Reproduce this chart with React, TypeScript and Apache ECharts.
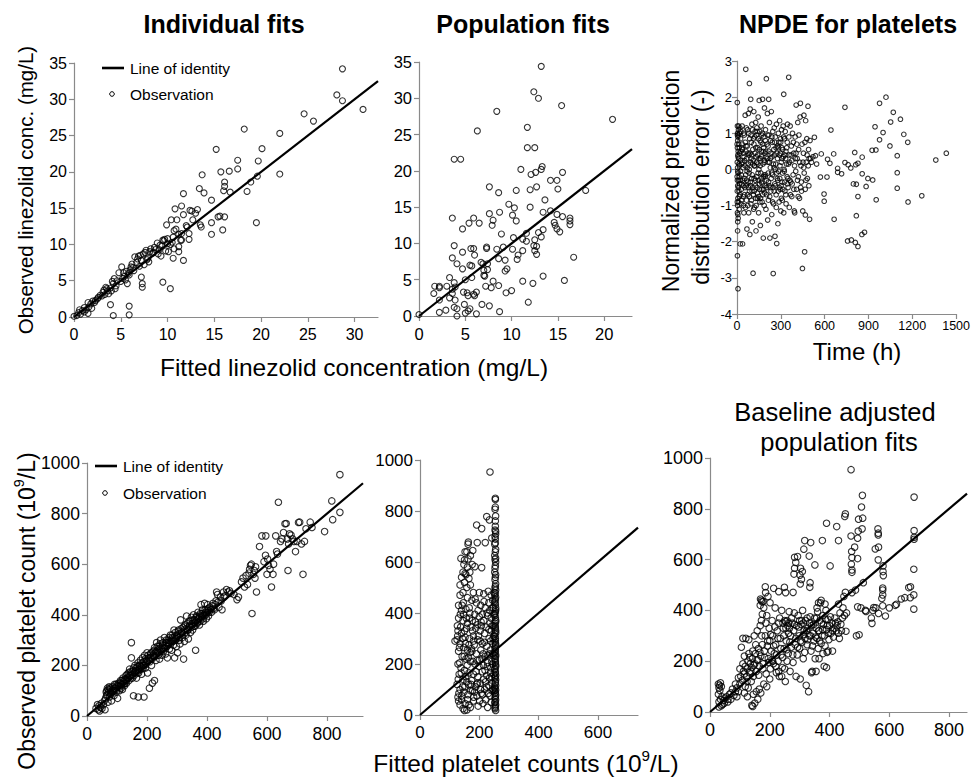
import React, { useEffect, useRef } from "react";
import * as echarts from "echarts";

// ---------- DATA ----------
// Panel 1: Individual fits (fitted, observed) mg/L
const indivObs: number[][] = [
  [28.7,34.2],[28.1,30.6],[28.7,29.8],[30.9,28.6],[24.6,28.0],[25.6,27.0],[18.2,25.9],[22.0,25.3],[15.2,23.1],[20.1,23.2],
  [17.5,21.6],[19.7,21.5],[13.7,19.6],[15.7,20.0],[16.6,20.1],[17.5,20.4],[22.0,19.7],[19.6,19.4],[18.9,18.6],[16.1,18.6],
  [16.1,18.0],[11.7,17.0],[13.4,17.7],[13.9,17.1],[16.0,17.4],[16.7,17.2],[18.5,17.3],[14.7,16.1],[11.5,15.3],[10.8,14.9],
  [12.4,14.7],[13.0,14.3],[11.7,14.1],[15.4,13.8],[15.6,13.9],[16.1,13.8],[10.4,13.4],[9.9,12.7],[11.0,13.4],[12.7,13.4],
  [14.7,13.0],[19.5,13.0],[13.5,12.7],[13.6,12.4],[12.1,12.4],[15.9,12.0],[10.7,11.9],[12.3,11.5],[14.7,11.4],[11.5,11.5],
  [12.3,10.7],[11.5,10.6],[9.5,10.6],[10.0,10.1],[10.5,10.3],[11.2,9.7],[10.7,9.4],[11.2,9.0],[10.1,9.0],[9.3,8.4],
  [10.6,8.1],[11.7,7.8],[9.5,4.8],[10.3,3.9],[7.2,5.5],[7.3,4.6],[7.3,4.1],[5.7,4.6],[3.9,1.7],[4.2,0.2],
  [5.9,1.5],[5.9,0.3],[1.5,0.5],[0.0,0.1],[12.0,12.6],[13.2,14.8],[12.6,14.6],[9.7,10.7],[9.0,8.7],[8.5,8.9],
  [0.3,0.2],[0.5,0.6],[0.7,0.4],[0.9,0.9],[1.1,1.3],[1.3,1.0],[1.5,2.0],[1.6,1.4],[1.8,1.8],[2.0,2.2],
  [2.3,2.3],[2.6,2.7],[2.8,3.0],[3.0,2.9],[3.1,3.4],[3.3,3.1],[3.4,4.1],[3.6,3.6],[3.7,3.2],[3.9,4.0],
  [4.0,3.6],[4.2,4.6],[4.3,5.3],[4.5,4.3],[4.6,5.0],[4.8,6.1],[5.0,4.9],[5.1,6.9],[5.2,5.3],[5.4,5.6],
  [5.6,6.3],[5.8,6.0],[6.0,6.5],[6.2,7.3],[6.3,6.8],[6.5,8.3],[6.7,7.5],[6.9,8.4],[7.0,7.0],[7.2,7.8],
  [7.4,8.7],[7.5,7.2],[7.7,9.2],[7.9,8.1],[8.0,7.6],[8.2,9.4],[8.4,8.8],[8.6,9.6],[8.9,10.2],[9.1,9.3],
  [9.4,9.8],[9.6,10.5],[9.8,9.1],[10.0,10.8],[10.3,10.0],[10.6,11.0],[10.9,12.1],[11.2,11.4],[11.4,10.6],[1.1,0.7],
  [1.9,1.2],[2.5,2.5],[3.5,3.9],[4.1,4.9],[4.4,3.9],[5.3,6.1],[5.5,5.1],[6.1,6.9],[6.8,8.0],[7.1,8.5],
  [7.6,8.9],[8.1,9.0],[8.7,9.3],[9.2,9.9],[5.9,5.8],[6.4,6.4],[7.8,7.9],[2.2,2.0],[3.2,3.7],[0.6,1.0],
];

// Panel 2: Population fits (fitted, observed) mg/L
const popObs: number[][] = [
  [13.2,34.4],[12.4,30.9],[12.9,30.0],[15.4,29.0],[8.4,28.2],[20.9,27.1],[6.3,25.5],[11.7,26.0],[3.8,21.6],[4.5,21.6],
  [11.7,23.2],[12.5,23.2],[11.0,20.2],[13.3,20.6],[13.2,20.2],[12.1,19.5],[12.6,19.8],[15.5,19.8],[14.2,18.7],[14.9,18.7],
  [15.0,17.5],[12.7,17.8],[12.0,17.4],[10.5,17.3],[18.0,17.3],[7.6,17.8],[8.6,17.0],[13.6,16.0],[9.7,15.4],[10.3,14.9],
  [12.0,15.0],[7.6,14.1],[8.7,14.3],[13.4,14.3],[14.2,14.5],[10.1,13.9],[10.5,13.1],[3.6,13.5],[5.9,13.5],[5.4,12.8],
  [6.5,12.8],[8.0,13.2],[7.9,12.5],[14.9,14.0],[15.5,13.7],[16.3,13.5],[16.3,13.1],[16.3,12.6],[14.6,12.9],[14.7,12.5],
  [14.9,12.0],[15.2,11.6],[4.7,12.0],[8.9,11.3],[13.4,11.9],[12.9,11.5],[11.6,11.4],[11.2,10.6],[11.6,10.3],[13.2,10.9],
  [10.2,10.8],[12.5,10.5],[3.8,9.7],[5.6,9.3],[5.9,9.3],[7.3,9.5],[7.3,9.3],[9.1,9.5],[10.1,9.2],[8.4,9.2],
  [4.7,8.8],[6.0,8.4],[12.4,9.7],[12.7,9.6],[11.2,9.0],[10.7,8.4],[12.5,9.0],[12.7,8.5],[10.6,7.8],[8.6,7.9],
  [9.3,7.7],[16.7,8.1],[3.6,8.0],[4.1,7.2],[4.7,6.5],[5.5,7.0],[5.7,6.9],[6.7,7.4],[6.9,7.2],[7.4,7.2],
  [7.0,6.3],[7.4,6.4],[9.3,6.2],[9.5,6.5],[7.0,5.6],[7.1,5.5],[5.0,5.0],[5.7,5.3],[3.3,5.3],[8.0,4.8],
  [8.6,4.2],[7.8,3.9],[7.2,4.1],[13.4,5.5],[15.7,4.9],[11.2,4.8],[12.3,4.5],[1.7,4.1],[2.2,4.1],[3.0,4.1],
  [1.6,3.1],[2.2,3.9],[3.6,3.7],[3.6,3.1],[3.9,4.0],[3.8,4.6],[4.8,3.3],[5.2,3.2],[5.9,3.0],[6.2,3.3],
  [5.3,2.8],[6.0,2.8],[9.4,3.2],[10.0,3.5],[11.8,1.9],[3.3,2.5],[3.9,2.2],[2.2,2.2],[4.9,1.6],[3.8,1.2],
  [4.1,1.0],[2.9,0.8],[2.2,0.5],[6.8,1.6],[7.6,1.4],[4.1,0.0],[5.0,0.4],[5.3,0.7],[5.5,1.0],[6.2,0.3],
  [8.7,0.6],[0,0.2],
];

// Panel 3: NPDE for platelets (time h, npde)
const npdeObs: number[][] = [
  [2,1.85],[3,1.2],[4,1.0],[5,0.8],[3,0.6],[6,0.4],[2,0.2],[4,0.05],[7,-0.1],[3,-0.3],[5,-0.45],[2,-0.6],[6,-0.8],[4,-1.0],
  [3,-1.2],[8,-1.35],[5,-1.45],[4,-1.7],[3,-2.39],[7,-3.30],[10,1.1],[12,0.7],[11,0.3],[14,-0.2],[13,-0.6],[10,-0.9],
  [15,-1.1],[9,0.95],[16,0.1],[18,-0.4],[20,1.15],[22,-2.06],[38,-2.06],[25,0.85],[27,0.5],[24,-0.05],[30,-0.55],[28,-0.95],
  [32,0.15],[35,1.2],[36,0.7],[40,-0.3],[42,-0.75],[45,0.45],[47,-1.2],[50,0.95],[52,0.25],[54,-0.5],[56,1.5],[60,2.77],
  [60,-0.15],[62,0.65],[65,-0.85],[68,-1.65],[70,0.05],[72,1.1],[75,-0.35],[78,1.55],[80,-1.2],[82,0.4],[85,2.38],[85,-0.6],
  [88,-1.8],[90,1.67],[92,0.2],[94,1.94],[95,-0.95],[98,0.75],[100,-0.25],[102,1.25],[105,-1.45],[108,0.55],[110,-2.87],
  [112,-0.7],[115,1.6],[118,0.1],[120,-1.05],[122,0.9],[125,-0.45],[128,1.3],[130,-1.7],[132,0.35],[135,-0.2],[138,1.05],
  [140,-0.8],[142,0.6],[145,1.45],[148,-1.2],[150,0.0],[152,1.91],[155,-0.55],[158,0.8],[160,-1.55],[162,0.3],[165,1.2],
  [168,-0.35],[170,0.95],[172,-0.9],[175,1.94],[178,0.15],[180,-1.9],[182,0.6],[185,-0.15],[188,1.7],[190,-0.65],[192,0.45],
  [195,1.1],[198,-1.1],[201,2.51],[202,-0.3],[205,0.7],[208,1.55],[210,-1.4],[212,0.2],[215,-0.85],[217,1.94],[218,0.95],
  [220,-0.45],[222,1.3],[225,-1.9],[228,0.05],[230,0.8],[232,-0.6],[235,1.6],[238,-1.25],[240,0.35],[243,-0.15],[245,1.05],
  [248,-2.88],[250,-0.95],[252,0.55],[255,1.15],[258,-0.4],[260,-1.85],[262,0.9],[265,0.15],[268,-0.7],[270,1.25],[272,-2.05],
  [275,-0.25],[278,0.65],[280,-1.5],[283,1.0],[285,-0.05],[288,-0.9],[290,0.4],[292,1.35],[295,-0.55],[298,0.85],[300,-1.15],
  [303,0.2],[305,1.1],[308,-0.35],[310,-0.85],[313,0.55],[316,1.2],[320,2.08],[320,-1.2],[322,0.0],[325,0.85],[328,-0.6],
  [330,1.05],[333,0.3],[336,-0.95],[340,0.6],[343,-0.2],[346,1.25],[350,-0.5],[354,2.55],[355,0.9],[358,-1.05],[360,0.2],
  [364,1.2],[368,-0.35],[372,0.65],[375,-0.75],[380,1.0],[384,-0.15],[388,0.45],[392,-1.15],[395,-1.2],[398,0.9],[402,-0.05],
  [405,1.78],[408,-0.55],[412,0.3],[416,1.3],[420,-0.2],[424,0.95],[428,-0.8],[432,1.45],[434,1.83],[438,0.1],[440,-0.35],
  [445,0.7],[448,-2.74],[450,-1.15],[455,0.45],[458,1.5],[460,-0.1],[463,-2.28],[465,0.75],[468,-1.26],[470,1.35],[474,0.2],
  [478,0.85],[482,-0.25],[486,1.75],[490,0.55],[494,0.3],[497,-1.38],[500,0.8],[510,0.2],[520,0.35],[530,0.89],[537,0.38],
  [545,0.15],[571,-0.21],[577,0.43],[596,-0.68],[597,-0.88],[616,-0.21],[620,0.28],[636,0.17],[643,1.09],[662,0.43],[665,-1.38],
  [689,-0.08],[689,0.03],[716,-0.12],[739,0.19],[739,1.72],[757,-1.98],[761,0.13],[779,0.04],[783,-1.95],[797,-0.40],[806,0.47],
  [810,-2.02],[813,0.13],[817,-0.41],[817,-1.28],[828,0.17],[828,-0.75],[828,-2.13],[855,-1.80],[857,-0.12],[857,0.34],[873,-1.74],
  [884,-0.47],[896,-0.25],[925,0.53],[929,-0.29],[945,1.18],[951,0.54],[953,-0.84],[976,1.83],[976,0.82],[1000,1.02],[1020,2.0],
  [1047,0.65],[1052,1.31],[1070,1.58],[1097,0.38],[1097,-0.09],[1097,-0.52],[1119,1.39],[1142,0.97],[1169,0.75],[1171,-0.90],
  [1265,-0.73],[1361,0.26],[1433,0.45],
  [6,0.9],[8,0.5],[12,-0.3],[15,0.6],[18,1.0],[21,-0.7],[26,0.25],[29,-0.15],[33,-0.4],[37,0.55],[41,0.05],[44,-1.0],[48,0.35],
  [53,-0.25],[57,0.75],[63,-0.45],[66,0.3],[69,-0.05],[73,-0.7],[77,0.45],[83,-0.1],[87,0.85],[93,-0.45],[97,0.3],[103,-0.6],
  [107,0.15],[113,0.85],[117,-0.25],[123,0.45],[127,-0.8],[133,0.95],[137,-0.5],[143,0.15],[147,-0.3],[153,0.55],[157,-0.9],
  [163,-0.1],[167,0.5],[173,-0.4],[177,0.7],[183,-0.55],[187,0.25],[193,-0.2],[197,0.5],[203,-0.7],[207,0.3],[213,0.65],
  [216,-0.35],[223,0.2],[227,-0.5],[233,0.45],[237,-0.1],[242,0.75],[247,-0.5],[253,0.05],[257,0.4],[263,-0.45],[267,0.6],
  [273,-0.1],[277,0.3],[282,-0.6],[287,0.75],[293,-0.25],[297,0.45],[302,-0.45],[307,0.6],[312,-0.1],[318,0.35],[326,-0.35],
  [335,0.5],[345,-0.4],[352,0.15],[362,-0.3],[370,0.4],[378,-0.4],[386,0.75],[394,0.1],[404,0.45],[414,-0.3],[422,0.55],
  [436,-0.5],[452,0.2],[472,-0.3],[488,0.1],
  [1,0.7],[1,-0.2],[2,-0.9],[3,0.95],[5,-0.05],[6,-1.25],[7,0.35],[9,-0.5],[11,1.2],[13,0.15],[16,-0.75],[19,0.45],[23,-0.3],
  [26,1.05],[31,-0.85],[34,0.6],[39,0.2],[43,-0.45],[46,1.0],[51,-0.7],[55,0.1],[58,-1.05],[61,0.5],[64,1.15],[67,-0.3],
  [71,0.65],[74,-1.0],[76,0.15],[79,-0.5],[81,1.0],[84,0.0],[86,-0.75],[89,0.45],[91,-0.35],[96,0.95],[99,-0.85],[101,0.4],
  [104,-0.15],[106,1.1],[109,-0.5],[111,0.25],[114,-1.1],[116,0.7],[119,-0.6],[121,0.1],[124,1.05],[126,-0.3],[129,0.6],
  [131,-1.0],[134,0.2],[136,1.15],[139,-0.65],[141,0.4],[144,-0.1],[146,0.85],[149,-0.75],[151,0.3],[154,-0.4],[156,1.05],
  [159,0.1],[161,-0.8],[164,0.75],[166,-0.25],[169,0.35],[171,-0.55],[174,1.0],[176,-0.7],[179,0.5],[181,-0.2],[184,0.9],
  [186,-1.0],[189,0.2],[191,-0.45],[194,0.8],[196,-0.15],[199,0.35],[204,-0.5],[209,0.95],[214,-0.1],[219,0.5],[224,-0.75],
  [229,0.3],[234,-0.25],[239,0.9],[244,-0.9],[249,0.15],[254,-0.6],[259,0.75],[264,0.0],[269,-1.05],[274,0.45],[279,-0.3],
  [284,0.6],[289,-0.5],[294,0.1],[299,0.75],[304,-0.8],[309,0.3],[314,-0.55],[319,0.9],[324,-0.05],[329,0.4],[334,-0.7],
  [339,0.15],[344,0.75],[349,-0.25],[356,0.4],[366,-0.7],[376,0.25],[389,-0.55],[399,0.3],[409,0.7],[419,-0.75],[429,0.2],
  [442,-0.6],[457,0.05],[467,-0.55],[480,0.4],[492,-0.45],[504,0.3],
];

// Panel 4: individual fits platelets (fitted, observed) 10^9/L
const indivPlt: number[][] = [
  [30,30],[35,45],[38,25],[40,40],[42,20],[45,35],[48,50],[50,30],[55,45],[58,60],[60,25],[62,70],[65,80],[66,100],[68,110],
  [70,55],[72,95],[74,115],[75,75],[78,105],[80,90],[82,60],[85,115],[88,100],[90,80],[92,125],[95,110],[98,95],[100,120],
  [102,70],[105,130],[108,100],[110,115],[112,140],[115,125],[118,105],[120,150],[122,135],[125,120],[128,145],[130,160],
  [132,130],[135,150],[138,170],[140,140],[142,185],[145,160],[148,290],[148,230],[150,175],[152,150],[155,190],[155,80],
  [158,170],[160,200],[162,180],[165,150],[168,195],[170,210],[171,75],[172,170],[175,200],[178,220],[180,185],[182,165],
  [185,230],[188,200],[190,75],[190,215],[192,240],[195,190],[198,220],[200,250],[202,170],[205,230],[208,110],[210,215],
  [212,245],[215,200],[218,130],[220,255],[222,235],[225,140],[225,270],[228,250],[230,220],[232,290],[235,260],[238,240],
  [240,275],[242,225],[245,300],[248,265],[250,240],[252,280],[255,255],[258,310],[260,270],[262,245],[265,290],[268,230],
  [270,300],[272,285],[275,265],[278,320],[280,295],[282,260],[285,310],[288,280],[290,340],[292,230],[295,300],[298,275],
  [300,320],[302,250],[305,340],[308,300],[310,285],[312,380],[315,330],[318,310],[320,350],[322,225],[325,295],[328,360],
  [330,320],[332,395],[335,340],[338,305],[340,375],[342,355],[345,330],[348,390],[350,365],[352,340],[355,400],[358,380],
  [360,355],[362,260],[365,395],[368,370],[370,410],[372,385],[375,360],[378,405],[380,440],[382,390],[385,420],[388,375],
  [390,400],[392,445],[395,410],[398,385],[400,420],[402,440],[405,395],[410,430],[415,410],[420,445],[425,420],[430,455],
  [432,490],[435,480],[440,430],[445,470],[450,420],[455,490],[460,475],[465,500],[470,490],[475,495],[480,485],[490,480],
  [500,460],[505,470],[515,530],[520,545],[525,510],[530,555],[535,520],[540,565],[542,580],[545,595],[548,600],[550,405],
  [555,560],[558,575],[560,545],[562,590],[565,490],[575,670],[583,712],[590,610],[595,635],[596,712],[600,560],[602,620],
  [605,595],[610,580],[615,510],[620,560],[622,600],[629,712],[632,650],[635,640],[638,845],[645,690],[650,700],[655,725],
  [660,760],[664,761],[668,700],[670,575],[672,680],[675,720],[680,715],[685,700],[690,690],[695,650],[700,690],[705,765],
  [709,766],[715,680],[720,560],[725,690],[730,740],[744,766],[750,745],[792,729],[816,850],[819,776],[843,954],[843,805],
  [64,95],[67,85],[71,105],[76,110],[79,85],[83,100],[86,95],[91,110],[94,100],[97,125],[103,115],[106,120],[111,130],
  [114,110],[117,140],[121,125],[124,145],[127,130],[131,140],[134,165],[137,150],[141,160],[144,175],[147,150],[151,165],
  [154,180],[157,160],[161,175],[164,190],[167,170],[171,185],[174,180],[177,200],[181,195],[184,210],[187,190],[191,200],
  [194,225],[197,205],[201,215],[204,240],[207,220],[211,230],[214,250],[217,225],[221,240],[224,260],[227,235],[231,255],
  [234,275],[237,250],[241,265],[244,285],[247,255],[251,270],[254,290],[257,265],[261,280],[264,300],[267,275],[271,290],
  [274,310],[277,285],[281,300],[284,320],[287,295],[291,310],[294,330],[297,305],[301,315],[304,335],[307,310],[311,325],
  [314,345],[317,320],[321,335],[324,355],[327,330],[331,345],[334,365],[337,340],[341,355],[344,375],[347,350],[351,360],
  [354,380],[357,355],[361,370],[364,390],[367,365],[371,380],[374,395],[377,375],[381,395],[384,405],[387,385],[391,395],
  [394,420],[397,400],[401,410],[404,425],[407,410],[412,420],[417,435],[422,425],[427,440],[437,450],[447,455],[457,470],
];

// Panel 5: population fits platelets (fitted, observed) 10^9/L
const popPlt: number[][] = [
  [254,850],[254,845],[253,807],[254,761],[255,720],[253,700],[254,690],[252,670],[255,650],[254,640],[253,610],[255,600],
  [254,585],[252,560],[255,550],[253,530],[254,505],[255,490],[252,470],[254,455],[253,440],[255,420],[254,405],[252,390],
  [255,372],[253,360],[254,345],[255,330],[252,318],[254,300],[253,285],[255,272],[254,258],[252,245],[255,230],[253,218],
  [254,205],[255,190],[252,178],[254,165],[253,150],[255,138],[254,125],[252,110],[255,98],[253,85],[254,72],[255,60],
  [252,48],[254,35],[253,25],[255,18],[250,480],[250,395],[249,310],[250,235],[249,160],[250,95],[248,420],[247,350],[246,280],
  [254,815],[255,780],[254,740],[253,725],[255,710],[254,675],[252,625],[255,615],[253,575],[254,540],[255,515],[253,498],
  [254,478],[255,462],[253,448],[254,432],[255,412],[253,398],[254,382],[255,366],[253,352],[254,338],[255,322],[253,308],
  [254,292],[255,278],[253,264],[254,250],[255,236],[253,222],[254,210],[255,196],[253,182],[254,170],[255,156],[253,144],
  [254,130],[255,116],[253,104],[254,90],[255,78],[253,66],[254,52],[255,40],[253,30],
  [236,953],[225,778],[234,765],[191,745],[208,731],[163,678],[193,676],[220,676],[242,694],[138,614],[150,608],[162,612],
  [185,582],[208,578],[145,560],[155,550],[165,535],[140,540],[150,520],[158,500],[170,510],[180,480],[200,480],[215,475],
  [230,485],[240,470],[135,470],[145,480],[160,460],[175,450],[190,440],[205,430],[220,420],[235,410],[142,430],[155,415],
  [168,400],[185,395],[200,385],[215,370],[228,390],[240,380],[130,380],[145,370],[160,360],[172,345],[188,340],[203,330],
  [218,320],[232,335],[243,350],[128,330],[140,320],[152,305],[167,300],[180,290],[195,295],[210,280],[225,270],[238,290],
  [125,295],[118,290],[135,280],[148,265],[160,255],[175,250],[190,240],[205,255],[220,230],[235,240],[130,250],[142,230],
  [155,220],[170,210],[185,200],[200,215],[214,195],[228,205],[242,210],[128,200],[138,185],[150,175],[165,165],[180,160],
  [195,150],[210,170],[225,155],[238,165],[132,160],[145,140],[158,130],[172,120],[188,110],[203,125],[218,100],[232,115],
  [243,125],[125,120],[135,100],[148,90],[162,80],[177,95],[192,75],[207,85],[222,60],[236,75],[128,70],[140,60],[152,45],
  [165,40],[180,55],[196,35],[212,45],[228,30],[145,25],[158,20],[170,30],[150,18],[130,55],[135,40],[240,50],[246,100],
  [244,200],[246,300],[245,450],[232,440],[210,395],[195,355],[180,310],[165,275],[150,330],[140,410],[130,430],[160,580],
  [152,555],[170,625],[178,645],[152,640],
  [127,310],[133,265],[137,345],[143,300],[147,395],[153,280],[157,340],[163,225],[167,380],[173,260],[177,330],[183,275],
  [187,365],[193,215],[197,310],[203,290],[207,350],[213,240],[217,285],[223,345],[227,190],[233,300],[237,255],[241,330],
  [245,240],[129,140],[134,205],[139,165],[144,110],[149,230],[154,150],[159,195],[164,120],[169,245],[174,135],[179,210],
  [184,90],[189,170],[194,125],[199,190],[204,100],[209,220],[214,140],[219,175],[224,110],[229,235],[234,145],[239,185],
  [243,95],[131,85],[141,75],[151,110],[161,60],[171,95],[181,70],[191,120],[201,55],[211,80],[221,130],[231,85],[241,150],
  [126,350],[136,395],[146,440],[156,380],[166,420],[176,370],[186,455],[196,410],[206,365],[216,445],[226,400],[236,360],
  [244,420],[135,510],[148,590],[158,640],[168,560],[176,590],[162,670],
];

// Panel 6: baseline adjusted population fits (fitted, observed) 10^9/L
const adjPlt: number[][] = [
  [472,954],[510,853],[683,846],[507,807],[453,780],[451,770],[497,759],[511,763],[390,743],[424,730],[496,712],[509,721],
  [562,721],[563,704],[563,697],[683,714],[683,688],[683,680],[472,693],[494,684],[317,675],[337,667],[376,675],[430,675],
  [484,649],[474,632],[553,642],[564,649],[314,641],[283,609],[293,612],[332,614],[475,608],[494,604],[287,589],[351,579],
  [402,575],[473,582],[475,559],[475,550],[563,599],[579,575],[579,553],[580,537],[283,566],[303,566],[309,553],[281,543],
  [301,539],[306,522],[682,562],[302,504],[335,509],[334,491],[185,493],[213,487],[230,474],[249,491],[278,471],[253,470],
  [169,445],[174,434],[453,471],[475,470],[487,480],[513,509],[578,488],[578,480],[578,461],[575,447],[578,418],[671,493],
  [682,461],[652,450],[624,424],[682,405],[548,411],[564,388],[587,378],[522,396],[494,414],[542,349],[499,304],[455,318],
  [457,390],[430,425],
  [28,110],[32,105],[35,115],[30,95],[38,100],[33,85],[28,70],[40,60],[35,50],[30,40],[45,45],[42,30],[50,55],[38,25],[30,20],
  [48,35],[140,26],[143,22],[160,50],[150,35],[170,75],
  [60,50],[70,75],[80,65],[90,95],[95,80],[100,110],[105,255],[108,125],[110,290],[115,150],[118,100],[120,290],[122,140],
  [125,170],[128,95],[130,285],[132,155],[135,190],[138,120],[140,175],[142,210],[145,140],[148,300],[150,190],[152,230],
  [155,160],[158,320],[160,205],[162,250],[165,180],[168,340],[170,220],[172,440],[175,265],[178,190],[180,410],[182,240],
  [185,300],[188,150],[190,380],[192,260],[195,210],[198,330],[200,280],[202,170],[205,240],[208,360],[210,300],[212,190],
  [215,230],[218,410],[220,265],[222,155],[225,320],[228,200],[230,350],[232,140],[235,290],[238,225],[240,400],[242,175],
  [245,330],[248,250],[250,360],[252,120],[255,280],[258,200],[260,340],[262,230],[265,395],[268,160],[270,300],[272,255],
  [275,350],[278,195],[280,320],[282,390],[285,265],[288,140],[290,340],[292,225],[295,380],[298,300],[300,250],[302,130],
  [305,345],[308,275],[310,400],[312,210],[315,320],[318,290],[320,360],[322,105],[325,265],[328,330],[330,80],[332,300],
  [335,375],[338,240],[340,340],[342,160],[345,310],[348,280],[350,370],[352,210],[355,330],[358,290],[360,395],[362,250],
  [365,320],[368,360],[370,430],[372,270],[375,300],[378,380],[380,345],[382,180],[385,260],[388,400],[390,325],[392,235],
  [395,365],[398,285],[400,340],[405,310],[410,320],[415,330],[420,350],[425,340],[430,310],[435,390],[440,320],[445,410],
  [448,455],[450,380],[340,155],[355,160],[390,175],[378,230],[395,240],[410,240],[365,210],[130,230],[110,190],[115,220],
  [100,170],[95,135],[85,110],[75,90],[65,70],[55,60],
  [540,370],[545,400],[555,410],[600,410],[620,420],[640,445],[665,490],[670,450],[505,410],[520,400],[490,300],
  [103,140],[112,160],[118,180],[124,120],[127,200],[133,215],[137,160],[143,240],[147,185],[153,265],[157,205],[163,145],
  [167,235],[173,300],[177,170],[183,215],[187,350],[193,280],[197,195],[203,305],[207,205],[213,260],[217,335],[223,225],
  [227,290],[233,370],[237,250],[243,215],[247,300],[253,355],[257,245],[263,310],[267,275],[273,370],[277,225],[283,345],
  [287,290],[293,255],[297,335],[303,280],[307,360],[313,305],[317,235],[323,320],[327,285],[333,350],[337,300],[343,260],
  [347,345],[353,295],[357,370],[363,320],[367,280],[373,350],[377,325],[383,300],[387,365],[393,340],[397,310],[403,375],
  [408,350],[413,295],[418,370],[423,320],[428,355],[433,290],[438,345],[443,370],[363,430],[372,440],[358,410],[385,425],
  [175,385],[168,420],[178,435],[172,360],[186,470],[194,455],[201,430],[264,350],[254,330],[244,350],[258,360],[266,330],
  [300,360],[312,350],[325,370],[210,200],[220,180],[230,160],[240,140],[250,170],[200,130],[190,100],[180,110],[165,90],
  [155,80],[145,70],[125,60],[115,75],[90,60],[85,80],[70,50],[60,40],
];

// identity line ranges (axis extents)
const identity1 = [0, 32.5];
const identity2 = [0, 23];
const identity4 = [0, 920];
const identity5 = [0, 735];
const identity6 = [0, 860];

// tick labels
const ticksConcX1 = [0, 5, 10, 15, 20, 25, 30];
const ticksConcX2 = [0, 5, 10, 15, 20];
const ticksConcY = [0, 5, 10, 15, 20, 25, 30, 35];
const ticksTime = [0, 300, 600, 900, 1200, 1500];
const ticksNpde = [-4, -3, -2, -1, 0, 1, 2, 3];
const ticksPltX4 = [0, 200, 400, 600, 800];
const ticksPltX5 = [0, 200, 400, 600];
const ticksPltX6 = [0, 200, 400, 600, 800];
const ticksPltY = [0, 200, 400, 600, 800, 1000];

// ---------- STYLE ----------
const FONT = '"Liberation Sans", Arial, Helvetica, sans-serif';
const AXIS_GRAY = "#8a8a8a";

function mkAxis(gridIndex: number, min: number, max: number, ticks: number[], fontSize: number, isX: boolean, margin?: number) {
  return {
    type: "value",
    gridIndex,
    min,
    max,
    splitLine: { show: false },
    axisLine: { show: true, onZero: false, lineStyle: { color: AXIS_GRAY, width: 1.2 } },
    axisTick: { show: true, inside: false, length: 5, customValues: ticks, lineStyle: { color: AXIS_GRAY, width: 1.2 } },
    axisLabel: {
      show: true,
      customValues: ticks,
      formatter: (v: number) => String(v),
      color: "#000",
      fontSize,
      fontFamily: FONT,
      margin: margin !== undefined ? margin : isX ? 9 : 7,
      hideOverlap: false,
    },
  };
}

function scatter(idx: number, data: number[][], size: number) {
  return {
    type: "scatter",
    xAxisIndex: idx,
    yAxisIndex: idx,
    data,
    symbol: "circle",
    symbolSize: size,
    silent: true,
    large: false,
    itemStyle: { color: "rgba(0,0,0,0)", borderColor: "#000", borderWidth: 1.1 },
    z: 2,
  };
}

function identityLine(idx: number, range: number[]) {
  return {
    type: "line",
    xAxisIndex: idx,
    yAxisIndex: idx,
    data: range.map((v) => [v, v]),
    symbol: "none",
    silent: true,
    lineStyle: { color: "#000", width: 2.2 },
    z: 3,
  };
}

function txt(text: string, x: number, y: number, font: string, align = "center", rotation = 0) {
  return {
    type: "text",
    x,
    y,
    rotation,
    silent: true,
    style: { text, font, fill: "#000", align, verticalAlign: "middle" },
  };
}

function legend(x: number, y1: number, y2: number) {
  return [
    { type: "line", silent: true, shape: { x1: x, y1, x2: x + 22, y2: y1 }, style: { stroke: "#000", lineWidth: 2.6 } },
    { type: "circle", silent: true, shape: { cx: x + 10, cy: y2, r: 2.3 }, style: { fill: "none", stroke: "#000", lineWidth: 1 } },
    txt("Line of identity", x + 28, y1, `15.5px ${FONT}`, "left"),
    txt("Observation", x + 28, y2, `15.5px ${FONT}`, "left"),
  ];
}

function supText(pre: string, post: string, x: number, y: number, size: number, rotation: number) {
  return {
    type: "text",
    x,
    y,
    rotation,
    silent: true,
    style: {
      text: `{a|${pre}}{s|9}{a|${post}}`,
      fill: "#000",
      align: "center",
      verticalAlign: "middle",
      rich: {
        a: { fontSize: size, fontFamily: FONT, fill: "#000", verticalAlign: "bottom", lineHeight: size * 1.15 },
        s: { fontSize: size * 0.62, fontFamily: FONT, fill: "#000", verticalAlign: "top", lineHeight: size * 1.15 },
      },
    },
  };
}

export default function App() {
  const ref = useRef<HTMLDivElement>(null);

  useEffect(() => {
    document.body.style.margin = "0";
    if (!ref.current) return;
    const chart = echarts.init(ref.current, undefined, { renderer: "svg" });

    const option: any = {
      animation: false,
      backgroundColor: "#fff",
      grid: [
        { left: 74, top: 63, width: 304, height: 254 },
        { left: 419, top: 62, width: 213, height: 254 },
        { left: 737, top: 61, width: 223, height: 253 },
        { left: 87, top: 463, width: 276, height: 253 },
        { left: 420, top: 460, width: 218, height: 255 },
        { left: 710, top: 458, width: 257, height: 254 },
      ],
      xAxis: [
        mkAxis(0, 0, 32.5, ticksConcX1, 16, true),
        mkAxis(1, 0, 23, ticksConcX2, 16.5, true),
        mkAxis(2, 0, 1500, ticksTime, 12.5, true, 5),
        mkAxis(3, 0, 920, ticksPltX4, 17.5, true),
        mkAxis(4, 0, 735, ticksPltX5, 17, true),
        mkAxis(5, 0, 860, ticksPltX6, 18, true),
      ],
      yAxis: [
        mkAxis(0, 0, 35, ticksConcY, 16, false),
        mkAxis(1, 0, 35, ticksConcY, 16.5, false),
        mkAxis(2, -4, 3, ticksNpde, 13, false, 5),
        mkAxis(3, 0, 1000, ticksPltY, 17.5, false),
        mkAxis(4, 0, 1000, ticksPltY, 17, false),
        mkAxis(5, 0, 1000, ticksPltY, 18, false),
      ],
      series: [
        scatter(0, indivObs, 6),
        identityLine(0, identity1),
        scatter(1, popObs, 6),
        identityLine(1, identity2),
        scatter(2, npdeObs, 4.6),
        scatter(3, indivPlt, 6.5),
        identityLine(3, identity4),
        scatter(4, popPlt, 6.5),
        identityLine(4, identity5),
        scatter(5, adjPlt, 6.5),
        identityLine(5, identity6),
      ],
      graphic: [
        txt("Individual fits", 224, 24, `bold 25px ${FONT}`),
        txt("Population fits", 523, 24, `bold 25px ${FONT}`),
        txt("NPDE for platelets", 848, 24, `bold 25px ${FONT}`),
        txt("Fitted linezolid concentration (mg/L)", 354, 367, `24.5px ${FONT}`),
        txt("Observed linezolid conc. (mg/L)", 25, 190, `20.5px ${FONT}`, "center", Math.PI / 2),
        txt("Normalized prediction", 671, 181, `23px ${FONT}`, "center", Math.PI / 2),
        txt("distribution error (-)", 701, 187, `23px ${FONT}`, "center", Math.PI / 2),
        txt("Time (h)", 857, 351, `24px ${FONT}`),
        txt("Baseline adjusted", 835, 412, `25.5px ${FONT}`),
        txt("population fits", 839, 442, `25.5px ${FONT}`),
        supText("Fitted platelet counts (10", "/L)", 526, 762, 24.5, 0),
        supText("Observed platelet count (10", "/L)", 25, 611, 23, Math.PI / 2),
        ...legend(102, 68, 94),
        ...legend(95, 466, 493),
      ],
    };

    chart.setOption(option);
    return () => chart.dispose();
  }, []);

  return <div ref={ref} style={{ width: 973, height: 779 }} />;
}
